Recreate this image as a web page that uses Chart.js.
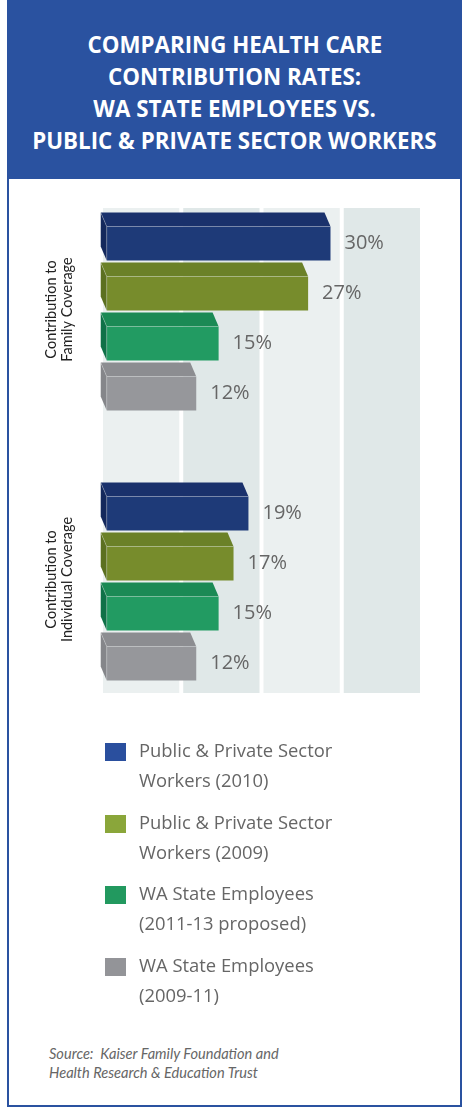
<!DOCTYPE html>
<html>
<head>
<meta charset="utf-8">
<script src="https://cdn.jsdelivr.net/npm/chart.js@4.4.1/dist/chart.umd.min.js"></script>
<style>
  html, body { margin: 0; padding: 0; background: #fff; }
  #page { position: relative; width: 462px; height: 1109px; overflow: hidden; }
  #frame { position: absolute; left: 7px; top: 0; width: 451px; height: 1105px; border: 2px solid #2a52a0; border-top: none; }
  #title { position: absolute; left: 7px; top: 0; width: 455px; height: 179px; background: #2a52a0;
    color: #fff; font-family: "Open Sans", sans-serif; font-weight: 700; font-size: 23px; line-height: 32px;
    text-align: center; padding-top: 28px; box-sizing: border-box; }
  #title span { display: inline-block; transform: scaleX(0.97); transform-origin: center; white-space: nowrap; }
  #chartBox { position: absolute; left: 0; top: 180px; width: 462px; height: 560px; }
  #legend { position: absolute; left: 105px; top: 735px; font-family: "Open Sans", sans-serif; color: #666; }
  .item { position: relative; height: 71.5px; }
  .swatch { position: absolute; left: 0; top: 8px; width: 21px; height: 18px; }
  .txt { position: absolute; left: 34px; top: 0; font-size: 18.4px; line-height: 30px; white-space: nowrap; }
  #source { position: absolute; left: 49px; top: 1044px; font-family: "Lato", sans-serif; font-style: italic;
    font-size: 14.6px; line-height: 19px; color: #666; }
</style>
</head>
<body>
<div id="page">
  <div id="frame"></div>
  <div id="title">
    <span>COMPARING HEALTH CARE</span><br>
    <span>CONTRIBUTION RATES:</span><br>
    <span>WA STATE EMPLOYEES VS.</span><br>
    <span>PUBLIC &amp; PRIVATE SECTOR WORKERS</span>
  </div>
  <div id="chartBox"><canvas id="chart" width="462" height="560"></canvas></div>
  <div id="legend"></div>
  <div id="source">Source:&nbsp; Kaiser Family Foundation and<br>Health Research &amp; Education Trust</div>
</div>
<script>
var categories = [
  ["Contribution to", "Family Coverage"],
  ["Contribution to", "Individual Coverage"]
];
var seriesNames = [
  ["Public & Private Sector", "Workers (2010)"],
  ["Public & Private Sector", "Workers (2009)"],
  ["WA State Employees", "(2011-13 proposed)"],
  ["WA State Employees", "(2009-11)"]
];
var privateSector2010 = [30, 19];
var privateSector2009 = [27, 17];
var waProposed = [15, 15];
var waCurrent = [12, 12];

var frontColors = ["#1e3a78", "#778c2c", "#229b62", "#96979b"];
var topColors = ["#1a316c", "#6b8128", "#1b8a55", "#8c8d91"];
var sideColors = ["#14285c", "#5c7020", "#0f7148", "#85868a"];
var legendColors = ["#2a4f9e", "#8aa63a", "#22995f", "#939498"];

var seriesValues = [privateSector2010, privateSector2009, waProposed, waCurrent];

// legend
var legendEl = document.getElementById("legend");
seriesNames.forEach(function(name, i) {
  var item = document.createElement("div");
  item.className = "item";
  item.innerHTML = '<div class="swatch" style="background:' + legendColors[i] + '"></div>' +
    '<div class="txt">' + name[0].replace("&", "&amp;") + '<br>' + name[1] + '</div>';
  legendEl.appendChild(item);
});

var depthX = 6, depthY = 14;

var decorPlugin = {
  id: "decor",
  beforeDatasetsDraw: function(chart) {
    var ctx = chart.ctx, area = chart.chartArea;
    var gap = 4;
    var bw = (area.right - area.left - 3 * gap) / 4;
    var top = area.top + 24.5, bottom = area.bottom - 30.5;
    ctx.save();
    for (var i = 0; i < 4; i++) {
      ctx.fillStyle = i % 2 === 0 ? "#ebf0f0" : "#e0e8e8";
      ctx.fillRect(area.left + i * (bw + gap), top, bw, bottom - top);
    }
    ctx.restore();
  },
  afterDatasetsDraw: function(chart) {
    var ctx = chart.ctx;
    ctx.save();
    chart.data.datasets.forEach(function(ds, di) {
      chart.getDatasetMeta(di).data.forEach(function(bar, i) {
        var x0 = bar.base, x1 = bar.x;
        var yT = bar.y - bar.height / 2, yB = bar.y + bar.height / 2;
        // top face
        ctx.fillStyle = topColors[di];
        ctx.beginPath();
        ctx.moveTo(x0, yT);
        ctx.lineTo(x1, yT);
        ctx.lineTo(x1 - depthX, yT - depthY);
        ctx.lineTo(x0 - depthX, yT - depthY);
        ctx.closePath();
        ctx.fill();
        // left face
        ctx.fillStyle = sideColors[di];
        ctx.beginPath();
        ctx.moveTo(x0, yT);
        ctx.lineTo(x0 - depthX, yT - depthY);
        ctx.lineTo(x0 - depthX, yB - depthY);
        ctx.lineTo(x0, yB);
        ctx.closePath();
        ctx.fill();
        // edge highlight
        ctx.strokeStyle = "rgba(255,255,255,0.25)";
        ctx.lineWidth = 1;
        ctx.beginPath();
        ctx.moveTo(x0 - depthX, yT - depthY);
        ctx.lineTo(x0, yT);
        ctx.lineTo(x1, yT);
        ctx.moveTo(x0, yT);
        ctx.lineTo(x0, yB);
        ctx.stroke();
        // value label
        ctx.fillStyle = "#666";
        ctx.font = "20px 'Open Sans'";
        ctx.textAlign = "left";
        ctx.textBaseline = "middle";
        ctx.fillText(ds.data[i] + "%", x1 + 14, bar.y);
      });
    });
    // category labels
    var yScale = chart.scales.y;
    ctx.fillStyle = "#222";
    ctx.font = "14.5px Lato";
    ctx.textAlign = "center";
    ctx.textBaseline = "middle";
    categories.forEach(function(lines, i) {
      var y = yScale.getPixelForValue(i) - 9;
      ctx.save();
      ctx.translate(51, y);
      ctx.rotate(-Math.PI / 2);
      ctx.fillText(lines[0], 0, 0);
      ctx.restore();
      ctx.save();
      ctx.translate(67, y);
      ctx.rotate(-Math.PI / 2);
      ctx.fillText(lines[1], 0, 0);
      ctx.restore();
    });
    ctx.restore();
  }
};

new Chart(document.getElementById("chart"), {
  type: "bar",
  data: {
    labels: categories.map(function(c) { return c.join(" "); }),
    datasets: seriesValues.map(function(vals, i) {
      return {
        label: seriesNames[i].join(" "),
        data: vals,
        backgroundColor: frontColors[i],
        borderWidth: 0,
        categoryPercentage: 0.7407,
        barPercentage: 0.68
      };
    })
  },
  options: {
    indexAxis: "y",
    responsive: false,
    maintainAspectRatio: false,
    animation: false,
    layout: { padding: { left: 103, right: 42, top: 3.5, bottom: 16.5 } },
    scales: {
      x: { display: false, min: -0.5, max: 42 },
      y: { display: false }
    },
    plugins: {
      legend: { display: false },
      tooltip: { enabled: false }
    }
  },
  plugins: [decorPlugin]
});
</script>
</body>
</html>
